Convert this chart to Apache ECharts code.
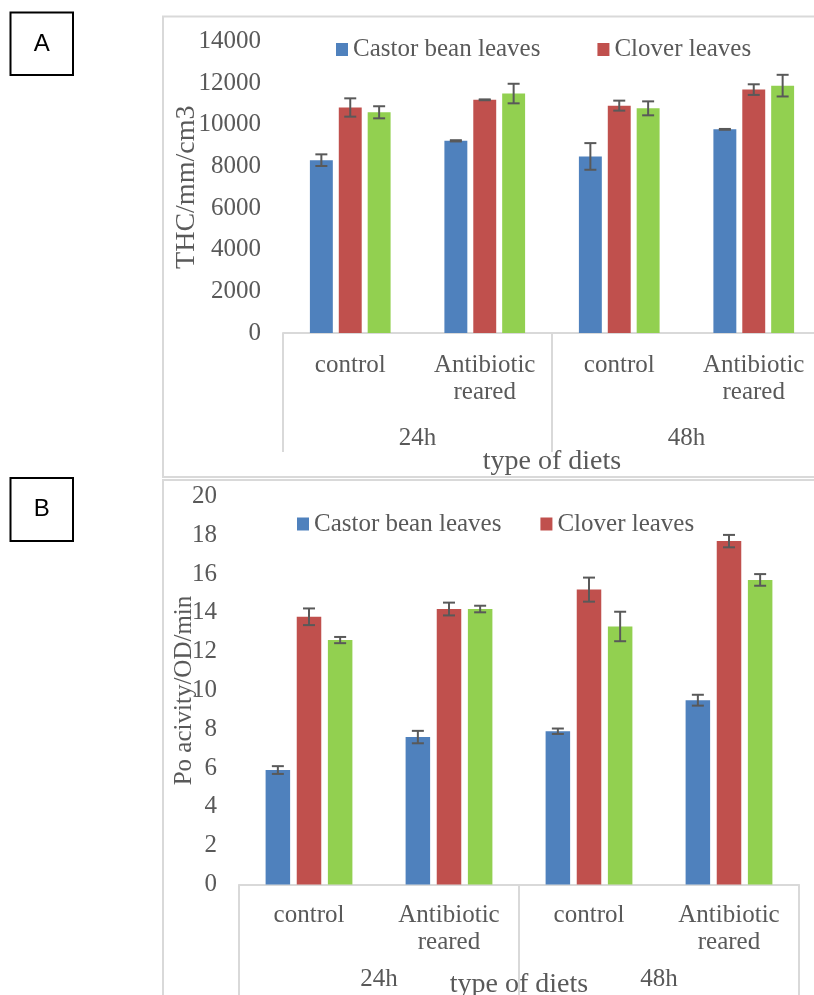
<!DOCTYPE html>
<html>
<head>
<meta charset="utf-8">
<script src="https://cdn.jsdelivr.net/npm/echarts@6/dist/echarts.min.js"></script>
<style>
html,body{margin:0;padding:0;background:#fff;}
#chart{width:814px;height:995px;}
</style>
</head>
<body>
<div id="chart"></div>
<script>
// ---- data ----
const categories = ['control', 'Antibiotic\nreared', 'control', 'Antibiotic\nreared'];
const groups = ['24h', '48h'];
const seriesNames = ['Castor bean leaves', 'Clover leaves', 'Series3'];
const legendNames = ['Castor bean leaves', 'Clover leaves'];

// Panel A: THC/mm/cm3
const castorA = [8300, 9230, 8480, 9780];
const cloverA = [10830, 11200, 10920, 11690];
const thirdA  = [10600, 11500, 10790, 11880];
const castorAErr = [280, 30, 640, 20];
const cloverAErr = [440, 20, 240, 255];
const thirdAErr  = [290, 470, 335, 520];
const yTicksA = {min: 0, max: 14000, interval: 2000};

// Panel B: Po acivity/OD/min
const castorB = [5.9, 7.6, 7.9, 9.5];
const cloverB = [13.8, 14.2, 15.2, 17.7];
const thirdB  = [12.6, 14.2, 13.3, 15.7];
const castorBErr = [0.2, 0.32, 0.14, 0.28];
const cloverBErr = [0.43, 0.33, 0.62, 0.32];
const thirdBErr  = [0.16, 0.17, 0.76, 0.3];
const yTicksB = {min: 0, max: 20, interval: 2};

// ---- styles ----
const colors = ['#4f81bd', '#c0504d', '#92d050'];
const textColor = '#595959';
const axisGray = '#d9d9d9';
const font = 'Liberation Serif';

const chart = echarts.init(document.getElementById('chart'), null, {renderer: 'canvas'});

function errRender(k, catGap, barGap) {
  return function (params, api) {
    const i = api.value(0), v = api.value(1), e = api.value(2);
    const band = api.size([1, 0])[0];
    const remained = band * (1 - catGap);
    const w = remained / (3 + 2 * barGap);
    const center = api.coord([i, v])[0];
    const x = center - remained / 2 + k * w * (1 + barGap) + w / 2;
    const yTop = api.coord([i, v + e])[1];
    const yBot = api.coord([i, v - e])[1];
    const cap = 6;
    const st = {stroke: '#595959', lineWidth: 2};
    return {type: 'group', children: [
      {type: 'line', shape: {x1: x, y1: yTop, x2: x, y2: yBot}, style: st},
      {type: 'line', shape: {x1: x - cap, y1: yTop, x2: x + cap, y2: yTop}, style: st},
      {type: 'line', shape: {x1: x - cap, y1: yBot, x2: x + cap, y2: yBot}, style: st}
    ]};
  };
}

const panels = [
  {vals: [castorA, cloverA, thirdA], errs: [castorAErr, cloverAErr, thirdAErr], catGap: 0.40, barGap: 0.26},
  {vals: [castorB, cloverB, thirdB], errs: [castorBErr, cloverBErr, thirdBErr], catGap: 0.38, barGap: 0.27}
];

const series = [];
panels.forEach(function (p, pi) {
  p.vals.forEach(function (vals, k) {
    series.push({
      type: 'bar', name: seriesNames[k], xAxisIndex: pi * 2, yAxisIndex: pi,
      data: vals, barCategoryGap: (p.catGap * 100) + '%', barGap: (p.barGap * 100) + '%',
      itemStyle: {color: colors[k]}, z: 2
    });
  });
  p.vals.forEach(function (vals, k) {
    series.push({
      type: 'custom', name: 'err' + pi + k, xAxisIndex: pi * 2, yAxisIndex: pi,
      data: vals.map(function (v, i) { return [i, v, p.errs[k][i]]; }),
      encode: {x: 0, y: 1}, renderItem: errRender(k, p.catGap, p.barGap), z: 5, silent: true
    });
  });
});

function catAxis(gi, margin, nameGap) {
  return {
    gridIndex: gi, type: 'category', data: categories, position: 'bottom',
    axisLine: {lineStyle: {color: axisGray, width: 2}}, axisTick: {show: false},
    axisLabel: {color: textColor, fontSize: 25, lineHeight: 27, margin: margin, interval: 0, fontFamily: font},
    name: 'type of diets', nameLocation: 'middle', nameGap: nameGap, nameMoveOverlap: false,
    nameTextStyle: {fontSize: 28, color: textColor, fontFamily: font}
  };
}
function groupAxis(gi, tickLen, margin) {
  return {
    gridIndex: gi, type: 'category', data: groups, position: 'bottom', offset: 0,
    axisLine: {show: false},
    axisTick: {show: true, length: tickLen, lineStyle: {color: axisGray, width: 2}},
    axisLabel: {color: textColor, fontSize: 25, margin: margin, fontFamily: font}
  };
}
function valAxis(gi, ticks, name, nameSize, nameGap) {
  return {
    gridIndex: gi, type: 'value', min: ticks.min, max: ticks.max, interval: ticks.interval,
    axisLine: {show: false}, axisTick: {show: false}, splitLine: {show: false},
    axisLabel: {color: textColor, fontSize: 25, margin: 22, fontFamily: font,
      formatter: function (v) { return String(v); }},
    name: name, nameLocation: 'middle', nameRotate: 90, nameGap: nameGap, nameMoveOverlap: false,
    nameTextStyle: {fontSize: nameSize, color: textColor, fontFamily: font}
  };
}

const legendBase = {
  data: legendNames, icon: 'rect', itemWidth: 12, itemHeight: 13, padding: 0,
  textStyle: {color: textColor, fontSize: 25, fontFamily: font, lineHeight: 26}, selectedMode: false
};

const option = {
  animation: false,
  textStyle: {fontFamily: font},
  grid: [
    {left: 283, top: 41.5, width: 538, height: 291.5, outerBoundsMode: 'none'},
    {left: 239, top: 496.5, width: 560, height: 388, outerBoundsMode: 'none'}
  ],
  legend: [
    Object.assign({}, legendBase, {left: 336, top: 36.5, itemGap: 57}),
    Object.assign({}, legendBase, {left: 297, top: 511, itemGap: 39})
  ],
  xAxis: [
    catAxis(0, 19, 115), groupAxis(0, 119, 93),
    catAxis(1, 17, 86), groupAxis(1, 120, 82)
  ],
  yAxis: [
    valAxis(0, yTicksA, 'THC/mm/cm3', 28, 82),
    valAxis(1, yTicksB, 'Po acivity/OD/min', 25, 42)
  ],
  graphic: [
    {type: 'rect', shape: {x: 163, y: 16.5, width: 700, height: 460.5}, style: {fill: 'none', stroke: axisGray, lineWidth: 2}, silent: true, z: -10},
    {type: 'rect', shape: {x: 163, y: 480, width: 700, height: 600}, style: {fill: 'none', stroke: axisGray, lineWidth: 2}, silent: true, z: -10},
    {type: 'rect', shape: {x: 10.5, y: 12.5, width: 62.5, height: 62.5}, style: {fill: '#fff', stroke: '#000', lineWidth: 2}, silent: true},
    {type: 'text', x: 41.75, y: 44, style: {text: 'A', fontSize: 24, fontFamily: 'Liberation Sans', fill: '#000', align: 'center', verticalAlign: 'middle'}, silent: true},
    {type: 'rect', shape: {x: 10.5, y: 478, width: 62.5, height: 63}, style: {fill: '#fff', stroke: '#000', lineWidth: 2}, silent: true},
    {type: 'text', x: 41.75, y: 509.5, style: {text: 'B', fontSize: 24, fontFamily: 'Liberation Sans', fill: '#000', align: 'center', verticalAlign: 'middle'}, silent: true}
  ],
  series: series
};
chart.setOption(option);
</script>
</body>
</html>
